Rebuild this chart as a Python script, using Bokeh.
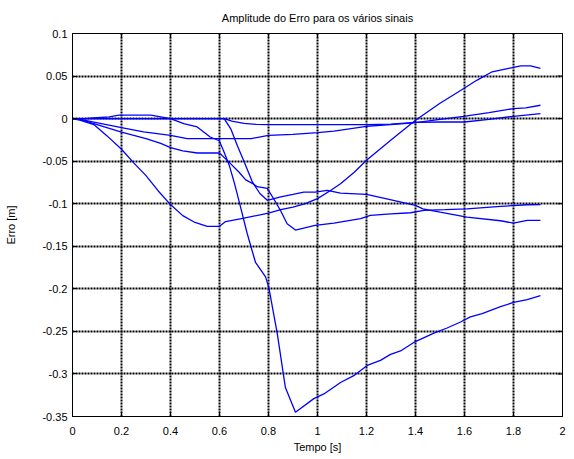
from bokeh.plotting import figure
from bokeh.models import FixedTicker, Range1d
from bokeh.embed import file_html
from bokeh.resources import INLINE

# ---------------- data ----------------
title_text = "Amplitude do Erro para os vários sinais"
x_ticks = [0, 0.2, 0.4, 0.6, 0.8, 1.0, 1.2, 1.4, 1.6, 1.8, 2.0]
x_tick_labels = ["0", "0.2", "0.4", "0.6", "0.8", "1", "1.2", "1.4", "1.6", "1.8", "2"]
y_ticks = [0.1, 0.05, 0, -0.05, -0.1, -0.15, -0.2, -0.25, -0.3, -0.35]
y_tick_labels = ["0.1", "0.05", "0", "-0.05", "-0.1", "-0.15", "-0.2", "-0.25", "-0.3", "-0.35"]

# signal A: early dip, ends highest
a_x = [0, 0.033, 0.087, 0.14, 0.2, 0.25, 0.3, 0.35, 0.4, 0.45, 0.5, 0.55, 0.6, 0.625, 0.7, 0.8,
       0.85, 0.9, 0.95, 1.0, 1.05, 1.094, 1.15, 1.2, 1.3, 1.4, 1.5, 1.584, 1.65, 1.713, 1.78, 1.83, 1.87, 1.91]
a_y = [0, -0.002, -0.007, -0.02, -0.036, -0.052, -0.067, -0.085, -0.101, -0.114, -0.122, -0.1265, -0.1265,
       -0.121, -0.117, -0.111, -0.107, -0.104, -0.1, -0.094, -0.085, -0.0765, -0.063, -0.049, -0.025, -0.002,
       0.018, 0.033, 0.045, 0.055, 0.059, 0.062, 0.062, 0.059]

# signal B: small bump, steep drop to minimum
b_x = [0, 0.05, 0.1, 0.15, 0.19, 0.32, 0.36, 0.4, 0.454, 0.509, 0.562, 0.599, 0.619, 0.64, 0.66, 0.686,
       0.713, 0.747, 0.788, 0.801, 0.836, 0.869, 0.91, 0.985, 1.026, 1.094, 1.148, 1.203, 1.257, 1.298,
       1.339, 1.393, 1.475, 1.529, 1.584, 1.624, 1.672, 1.747, 1.8, 1.856, 1.91]
b_y = [0, 0, 0.001, 0.002, 0.004, 0.004, 0.002, 0, -0.006, -0.0098, -0.0216, -0.026, -0.0396, -0.055,
       -0.075, -0.104, -0.135, -0.169, -0.186, -0.198, -0.253, -0.316, -0.345, -0.329, -0.3235, -0.31,
       -0.302, -0.29, -0.284, -0.277, -0.273, -0.263, -0.252, -0.246, -0.239, -0.233, -0.229, -0.221,
       -0.216, -0.2126, -0.208]

# signal C: near zero
c_x = [0, 0.6, 0.62, 0.65, 0.7, 0.75, 0.8, 1.0, 1.2, 1.3, 1.4, 1.5, 1.6, 1.7, 1.8, 1.91]
c_y = [0, 0, 0, -0.003, -0.0055, -0.0067, -0.007, -0.007, -0.007, -0.0065, -0.0045, -0.004, -0.004,
       -0.001, 0.0027, 0.0059]

# signal D: small offset, ends slightly positive
d_x = [0, 0.033, 0.087, 0.2, 0.29, 0.4, 0.468, 0.6, 0.73, 0.8, 0.9, 1.0, 1.067, 1.2, 1.257, 1.393,
       1.5, 1.597, 1.7, 1.8, 1.85, 1.91]
d_y = [0, -0.001, -0.004, -0.0105, -0.0157, -0.0196, -0.0235, -0.0235, -0.0235, -0.0196, -0.0185,
       -0.0165, -0.0146, -0.009, -0.0079, -0.005, -0.001, 0.0027, 0.007, 0.0118, 0.0125, 0.0157]

# signal E: plateau near -0.04 then drop to -0.13
e_x = [0, 0.03, 0.087, 0.2, 0.3, 0.36, 0.4, 0.45, 0.51, 0.6, 0.64, 0.68, 0.707, 0.74, 0.754, 0.795,
       0.829, 0.849, 0.876, 0.91, 0.99, 1.067, 1.176, 1.216, 1.3, 1.38, 1.434, 1.52, 1.61, 1.747, 1.856, 1.91]
e_y = [0, -0.001, -0.006, -0.016, -0.0235, -0.029, -0.034, -0.038, -0.0404, -0.0404, -0.0514, -0.063,
       -0.072, -0.077, -0.08, -0.082, -0.098, -0.108, -0.1235, -0.131, -0.1255, -0.1228, -0.1176,
       -0.1137, -0.112, -0.1106, -0.1079, -0.107, -0.106, -0.1032, -0.1012, -0.101]

# signal G: zero until 0.6 then drop to -0.1
g_x = [0, 0.6, 0.619, 0.646, 0.673, 0.701, 0.735, 0.765, 0.795, 0.85, 0.9, 0.944, 0.99, 1.04, 1.094,
       1.2, 1.31, 1.4, 1.43, 1.5, 1.61, 1.747, 1.8, 1.856, 1.91]
g_y = [0, 0, 0, -0.012, -0.032, -0.051, -0.075, -0.088, -0.096, -0.092, -0.089, -0.0863, -0.0863,
       -0.0843, -0.0875, -0.089, -0.096, -0.102, -0.106, -0.11, -0.1157, -0.12, -0.1228, -0.1196, -0.1196]

series = [(a_x, a_y), (b_x, b_y), (c_x, c_y), (d_x, d_y), (e_x, e_y), (g_x, g_y)]

# ---------------- figure ----------------
FONT = "Liberation Sans"
X0, X1 = x_ticks[0], x_ticks[-1]
Y0, Y1 = y_ticks[-1], y_ticks[0]
p = figure(width=574, height=459, output_backend="svg", toolbar_location=None,
           x_range=Range1d(X0, X1), y_range=Range1d(Y0, Y1), title=title_text)
p.min_border_left = 72
p.min_border_right = 12
p.min_border_top = 33
p.min_border_bottom = 43
p.background_fill_color = "white"
p.border_fill_color = "white"
p.outline_line_color = "black"
p.outline_line_width = 1

p.title.align = "center"
p.title.text_font = FONT
p.title.text_font_size = "11px"
p.title.text_font_style = "normal"
p.title.text_color = "black"
p.title.standoff = 19

# grid: heavy black dotted (MATLAB style)
for g in (p.xgrid[0], p.ygrid[0]):
    g.grid_line_color = "black"
    g.grid_line_dash = "2 1"
    g.grid_line_width = 2
    g.grid_line_alpha = 1.0
p.xgrid[0].ticker = FixedTicker(ticks=x_ticks)
p.ygrid[0].ticker = FixedTicker(ticks=y_ticks)

for xs, ys in series:
    p.line(xs, ys, line_color="#0000ff", line_width=1.3)

# inward tick marks on the top and right edges (clipped to the frame)
p.scatter(x_ticks, [Y1] * len(x_ticks), marker="dash", angle=1.5708, size=10,
          line_color="black", line_width=1)
p.scatter([X1] * len(y_ticks), y_ticks, marker="dash", size=10,
          line_color="black", line_width=1)

def style_axis(ax, ticks, labels):
    ax.ticker = FixedTicker(ticks=ticks)
    ax.major_label_overrides = {t: l for t, l in zip(ticks, labels)}
    ax.major_tick_in = 5
    ax.major_tick_out = 0
    ax.minor_tick_line_color = None
    ax.axis_line_color = "black"
    ax.major_tick_line_color = "black"
    ax.major_label_text_font = FONT
    ax.major_label_text_font_size = "11px"
    ax.major_label_text_color = "black"
    ax.axis_label_text_font = FONT
    ax.axis_label_text_font_size = "11px"
    ax.axis_label_text_font_style = "normal"
    ax.axis_label_text_color = "black"

xa = p.xaxis[0]
ya = p.yaxis[0]
style_axis(xa, x_ticks, x_tick_labels)
style_axis(ya, y_ticks, y_tick_labels)
xa.axis_label = "Tempo [s]"
ya.axis_label = "Erro [m]"
xa.major_label_standoff = 10
ya.major_label_standoff = 5
xa.axis_label_standoff = 3
ya.axis_label_standoff = 22

open("out.html", "w").write(file_html(p, INLINE))
